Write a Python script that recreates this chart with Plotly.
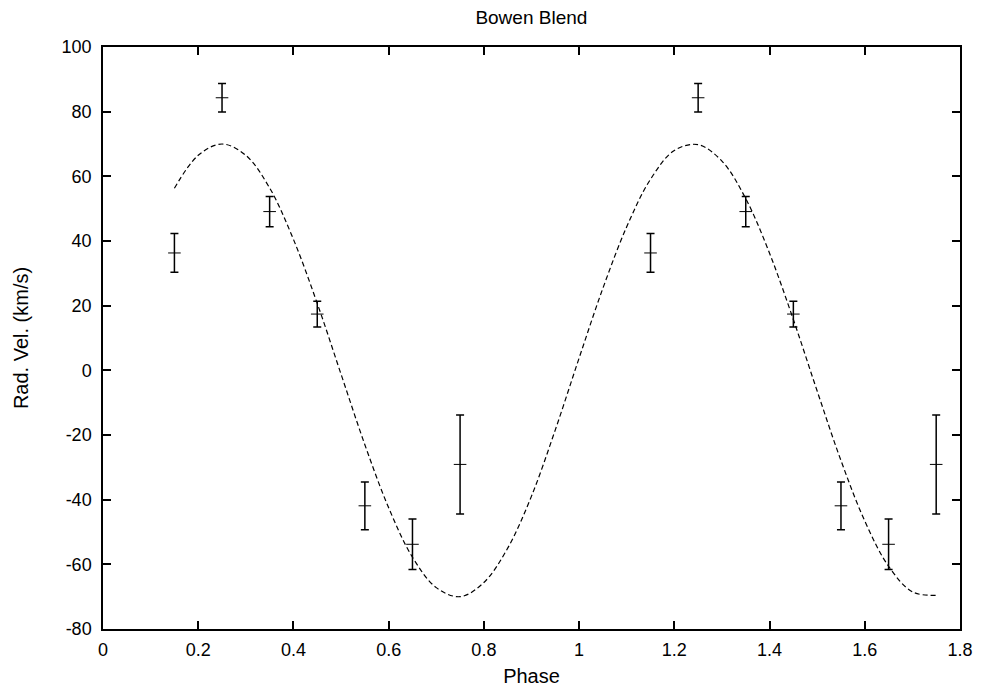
import plotly.graph_objects as go

# Observed radial velocities (phase folded, shown twice)
phase_obs = [0.15, 0.25, 0.35, 0.45, 0.55, 0.65, 0.75,
             1.15, 1.25, 1.35, 1.45, 1.55, 1.65, 1.75]
rv_obs = [36.3, 84.3, 49.1, 17.4, -41.9, -53.8, -29.1,
          36.3, 84.3, 49.1, 17.4, -41.9, -53.8, -29.1]
rv_err = [6.0, 4.4, 4.7, 4.0, 7.4, 7.8, 15.3,
          6.0, 4.4, 4.7, 4.0, 7.4, 7.8, 15.3]

# Fitted model curve
phase_fit = [0.15, 0.20, 0.25, 0.30, 0.35, 0.40, 0.45, 0.50, 0.55, 0.60,
             0.65, 0.70, 0.75, 0.80, 0.85, 0.90, 0.95, 1.00, 1.05, 1.10,
             1.15, 1.20, 1.25, 1.30, 1.35, 1.40, 1.45, 1.50, 1.55, 1.60,
             1.65, 1.70, 1.75]
rv_fit = [56.3, 66.5, 70.0, 66.5, 56.4, 40.5, 20.7, -1.2, -23.0, -42.5,
          -57.8, -67.2, -70.0, -65.6, -55.0, -38.9, -18.4, 3.8, 25.4, 44.4,
          59.1, 68.0, 69.8, 64.7, 53.1, 36.2, 15.7, -6.4, -27.9, -46.6,
          -60.6, -68.5, -69.6]

x_ticks = [0, 0.2, 0.4, 0.6, 0.8, 1.0, 1.2, 1.4, 1.6, 1.8]
x_labels = ["0", "0.2", "0.4", "0.6", "0.8", "1", "1.2", "1.4", "1.6", "1.8"]
y_ticks = [-80, -60, -40, -20, 0, 20, 40, 60, 80, 100]
y_labels = ["-80", "-60", "-40", "-20", "0", "20", "40", "60", "80", "100"]

FONT = "Liberation Sans, Arial, sans-serif"

fig = go.Figure()
fig.add_trace(go.Scatter(
    x=phase_fit, y=rv_fit, mode="lines", line_shape="spline",
    line=dict(color="black", width=1.2, dash="5px,3px"),
    showlegend=False, hoverinfo="skip"))
fig.add_trace(go.Scatter(
    x=phase_obs, y=rv_obs, mode="markers",
    marker=dict(symbol="line-ew", size=9, color="black",
                line=dict(color="black", width=1)),
    error_y=dict(type="data", array=rv_err, visible=True,
                 color="black", thickness=1.5, width=4),
    showlegend=False))

axis_common = dict(
    showline=True, linecolor="black", linewidth=1.5, mirror="ticks",
    ticks="inside", ticklen=8, tickwidth=1.5, tickcolor="black",
    showgrid=False, zeroline=False,
    tickfont=dict(family=FONT, size=18, color="black"),
)

fig.update_layout(
    width=984, height=691,
    margin=dict(l=103, r=24, t=47, b=62),
    paper_bgcolor="white", plot_bgcolor="white",
    title=dict(text="Bowen Blend", x=0.54, xanchor="center", y=0.985, yanchor="top",
               font=dict(family=FONT, size=19, color="black")),
    xaxis=dict(range=[0, 1.8], tickvals=x_ticks, ticktext=x_labels,
               ticklabelstandoff=4,
               title=dict(text="Phase", standoff=10,
                          font=dict(family=FONT, size=20, color="black")),
               automargin=False,
               **axis_common),
    yaxis=dict(range=[-80, 100], tickvals=y_ticks, ticktext=y_labels,
               ticklabelstandoff=6,
               title=dict(text="Rad. Vel. (km/s)", standoff=28,
                          font=dict(family=FONT, size=20, color="black")),
               automargin=False,
               **axis_common),
)

fig.write_html("out.html")
